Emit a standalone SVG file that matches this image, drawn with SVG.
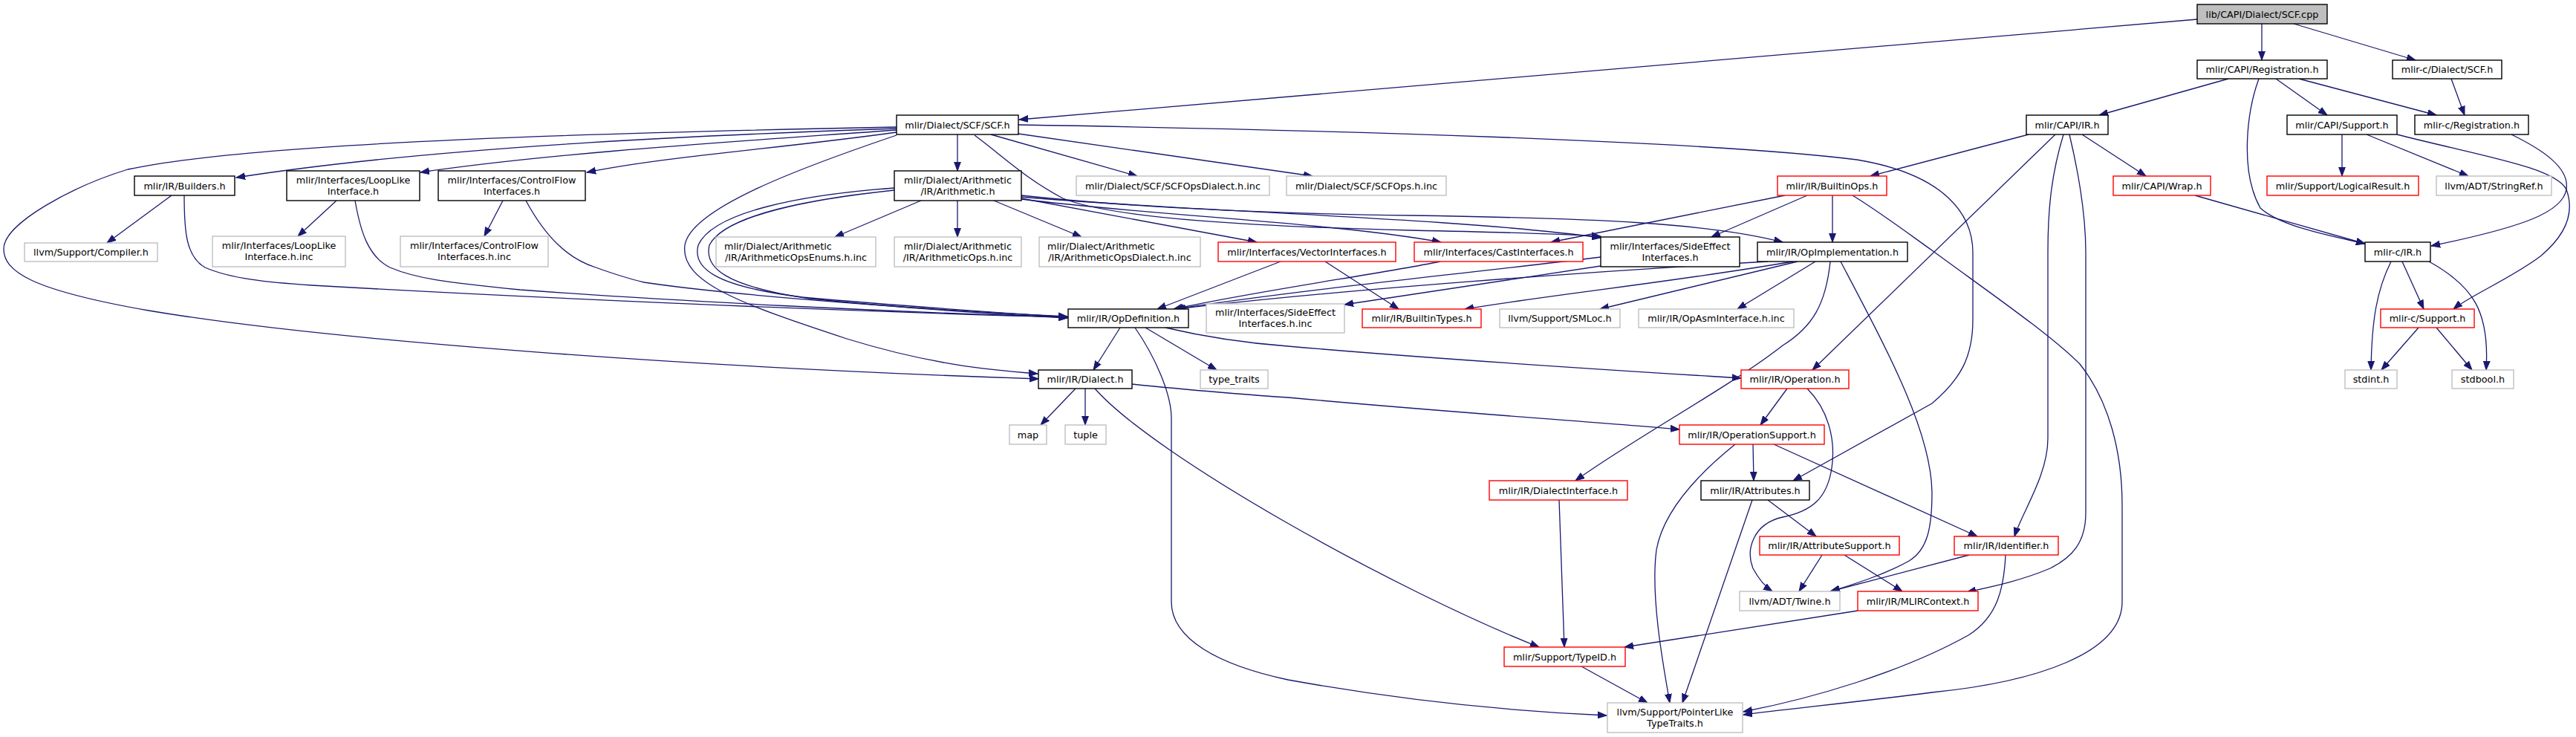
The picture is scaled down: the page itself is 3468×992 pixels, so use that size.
<svg xmlns="http://www.w3.org/2000/svg" width="3468" height="992" viewBox="0 0 3468 992">
<style>
rect{fill:#ffffff;stroke-width:1.4}
.k rect{stroke:#000000}
.g rect{stroke:#bfbfbf}
.r rect{stroke:#ff0000}
.root rect{fill:#bfbfbf;stroke:#000000}
text{font-family:"DejaVu Sans","Liberation Sans",sans-serif;font-size:12.8px;text-anchor:middle;fill:#000000}
text.s{text-anchor:start}
#edges path{fill:none;stroke:#191970;stroke-width:1.3;marker-end:url(#ah)}
</style>
<defs>
<marker id="ah" markerUnits="userSpaceOnUse" markerWidth="13" markerHeight="10" refX="12" refY="5" orient="auto" viewBox="0 0 13 10"><path d="M0,0.6 L12,5 L0,9.4 z" fill="#191970" stroke="#191970" stroke-width="1"/></marker>
</defs>
<rect x="0" y="0" width="3468" height="992" style="fill:#ffffff;stroke:none"/>
<g id="edges">
<path d="M2958,26 L1372,161"/>
<path d="M3045,32 L3045,81"/>
<path d="M3088,32 L3252,81"/>
<path d="M3000,106 L2826,155"/>
<path d="M3041,106 C3025,150 3015,230 3043,280 C3070,305 3140,318 3184,328"/>
<path d="M3064,106 L3133,155"/>
<path d="M3095,106 L3280,155"/>
<path d="M3300,106 L3318,155"/>
<path d="M2731,181 L2518,237"/>
<path d="M2767,181 L2440,498"/>
<path d="M2778,181 C2760,240 2757,290 2757,340 L2757,590 C2757,640 2722,690 2712,722"/>
<path d="M2786,181 C2800,240 2808,290 2808,340 L2808,690 C2808,730 2790,750 2760,765 C2720,782 2680,790 2648,797"/>
<path d="M2803,181 L2889,237"/>
<path d="M2955,263 L3184,328"/>
<path d="M3153,181 L3153,237"/>
<path d="M3186,181 L3323,237"/>
<path d="M3227,181 C3340,210 3440,225 3455,255 C3468,290 3450,320 3420,345 C3380,375 3325,398 3303,416"/>
<path d="M3381,181 C3420,200 3460,225 3455,255 C3450,285 3400,305 3273,331"/>
<path d="M3219,352 C3200,390 3193,430 3192,498"/>
<path d="M3234,352 L3263,416"/>
<path d="M3270,352 C3330,385 3352,420 3347,498"/>
<path d="M3256,441 L3206,498"/>
<path d="M3280,441 L3328,498"/>
<path d="M1207,173 C1000,180 600,195 318,239"/>
<path d="M1207,175 C1000,190 750,205 566,232"/>
<path d="M1207,178 C1050,200 900,210 790,232"/>
<path d="M1207,171 C850,178 350,190 172,228 C100,250 5,300 5,335 C5,365 40,390 200,418 C450,460 950,495 1398,510"/>
<path d="M1289,181 L1289,230"/>
<path d="M1334,181 L1531,237"/>
<path d="M1371,180 L1767,237"/>
<path d="M1371,168 C1800,175 2300,190 2500,215 C2620,235 2656,290 2656,340 L2656,430 C2656,480 2640,510 2601,543 L2414,647"/>
<path d="M1207,182 C1080,225 930,280 922,330 C915,380 1000,410 1140,456 C1250,490 1330,498 1397,503"/>
<path d="M1204,253 C1080,262 960,285 940,330 C932,360 960,385 1080,400 C1250,415 1380,423 1437,427"/>
<path d="M1204,256 C1090,268 975,290 955,330 C948,360 975,385 1090,402 C1250,418 1380,425 1437,428"/>
<path d="M1240,270 L1124,319"/>
<path d="M1289,270 L1289,319"/>
<path d="M1338,270 L1456,319"/>
<path d="M1375,267 L1692,326"/>
<path d="M1375,268 C1550,290 1800,300 1940,326"/>
<path d="M1375,265 C1600,285 1950,292 2155,320"/>
<path d="M1312,182 C1350,210 1380,240 1431,267 C1500,295 1700,305 1900,310 C2000,312 2100,315 2155,318"/>
<path d="M1375,263 C1550,282 1750,288 1900,290 C2150,294 2300,300 2400,326"/>
<path d="M2403,263 L2088,326"/>
<path d="M2433,263 L2304,319"/>
<path d="M2467,263 L2467,326"/>
<path d="M2494,263 C2530,285 2570,315 2601,337 C2680,395 2760,450 2800,490 C2840,540 2857,610 2857,680 L2857,810 C2857,880 2740,918 2601,932 C2500,945 2400,955 2347,962"/>
<path d="M1724,352 L1558,416"/>
<path d="M1784,352 L1883,416"/>
<path d="M1939,352 C1850,370 1700,390 1580,416"/>
<path d="M2155,346 C2000,365 1750,390 1582,416"/>
<path d="M2155,358 L1810,410"/>
<path d="M2380,352 C2150,365 1800,390 1584,416"/>
<path d="M2414,352 C2250,380 2100,395 1972,416"/>
<path d="M2420,352 L2154,416"/>
<path d="M2444,352 L2339,416"/>
<path d="M2464,352 C2458,410 2440,440 2400,465 C2330,520 2200,590 2121,647"/>
<path d="M2478,352 C2540,470 2600,580 2601,663 C2601,710 2595,740 2570,755 C2540,772 2500,785 2465,796"/>
<path d="M1508,441 L1472,498"/>
<path d="M1542,441 L1638,498"/>
<path d="M1569,441 C1620,453 1680,462 1734,466 C1950,485 2200,500 2344,509"/>
<path d="M1528,441 C1555,480 1577,530 1577,563 L1577,810 C1577,860 1640,895 1734,915 C1900,945 2050,958 2163,963"/>
<path d="M1448,523 L1401,572"/>
<path d="M1461,523 L1461,572"/>
<path d="M1524,517 C1600,525 1700,533 1734,535 C1950,555 2150,568 2261,578"/>
<path d="M1474,523 C1555,615 1880,795 2072,871"/>
<path d="M2406,523 L2370,572"/>
<path d="M2433,523 C2460,550 2472,590 2466,630 C2460,670 2440,688 2400,696 C2360,705 2350,740 2360,765 C2368,780 2377,790 2386,796"/>
<path d="M2360,598 L2361,647"/>
<path d="M2388,598 L2662,722"/>
<path d="M2336,598 C2290,635 2240,685 2230,740 C2222,800 2238,890 2248,946"/>
<path d="M2359,673 L2265,946"/>
<path d="M2380,673 L2445,722"/>
<path d="M2453,747 L2422,796"/>
<path d="M2483,747 L2561,796"/>
<path d="M2651,747 L2464,796"/>
<path d="M2700,747 C2698,790 2690,830 2650,855 C2560,905 2440,940 2347,958"/>
<path d="M2501,822 L2187,871"/>
<path d="M2129,897 L2218,946"/>
<path d="M2099,673 L2106,871"/>
<path d="M231,263 L144,327"/>
<path d="M248,263 C248,310 250,345 276,360 C310,375 360,380 420,384 C700,400 1100,418 1437,427"/>
<path d="M453,270 L401,318"/>
<path d="M478,270 C485,310 495,345 525,360 C560,375 600,380 700,390 C900,405 1200,420 1437,427"/>
<path d="M677,270 L652,318"/>
<path d="M708,270 C735,320 765,348 802,360 C830,370 850,376 867,380 C1000,400 1300,420 1437,426"/>
</g>
<g id="n_root" class="root"><rect x="2958" y="6" width="175" height="26"/><text x="3045.5" y="23.5">lib/CAPI/Dialect/SCF.cpp</text></g>
<g id="n_reg" class="k"><rect x="2958" y="81" width="175" height="25"/><text x="3045.5" y="98">mlir/CAPI/Registration.h</text></g>
<g id="n_csf" class="k"><rect x="3221" y="81" width="147" height="25"/><text x="3294.5" y="98">mlir-c/Dialect/SCF.h</text></g>
<g id="n_scf" class="k"><rect x="1207" y="155" width="164" height="26"/><text x="1289" y="172.5">mlir/Dialect/SCF/SCF.h</text></g>
<g id="n_capiir" class="k"><rect x="2728" y="155" width="110" height="26"/><text x="2783" y="172.5">mlir/CAPI/IR.h</text></g>
<g id="n_capisup" class="k"><rect x="3079" y="155" width="148" height="26"/><text x="3153" y="172.5">mlir/CAPI/Support.h</text></g>
<g id="n_creg" class="k"><rect x="3251" y="155" width="153" height="26"/><text x="3327.5" y="172.5">mlir-c/Registration.h</text></g>
<g id="n_build" class="k"><rect x="181" y="237" width="135" height="26"/><text x="248.5" y="254.5">mlir/IR/Builders.h</text></g>
<g id="n_loop" class="k"><rect x="386" y="230" width="179" height="40"/><text x="475.5" y="246.8">mlir/Interfaces/LoopLike</text><text x="475.5" y="261.8">Interface.h</text></g>
<g id="n_cf" class="k"><rect x="590" y="230" width="198" height="40"/><text x="689" y="246.8">mlir/Interfaces/ControlFlow</text><text x="689" y="261.8">Interfaces.h</text></g>
<g id="n_arith" class="k"><rect x="1204" y="230" width="171" height="40"/><text x="1289.5" y="246.8">mlir/Dialect/Arithmetic</text><text x="1289.5" y="261.8">/IR/Arithmetic.h</text></g>
<g id="n_scfdia" class="g"><rect x="1449" y="237" width="260" height="26"/><text x="1579" y="254.5">mlir/Dialect/SCF/SCFOpsDialect.h.inc</text></g>
<g id="n_scfops" class="g"><rect x="1732" y="237" width="215" height="26"/><text x="1839.5" y="254.5">mlir/Dialect/SCF/SCFOps.h.inc</text></g>
<g id="n_bops" class="r"><rect x="2393" y="237" width="147" height="26"/><text x="2466.5" y="254.5">mlir/IR/BuiltinOps.h</text></g>
<g id="n_wrap" class="r"><rect x="2845" y="237" width="131" height="26"/><text x="2910.5" y="254.5">mlir/CAPI/Wrap.h</text></g>
<g id="n_lres" class="r"><rect x="3052" y="237" width="204" height="26"/><text x="3154" y="254.5">mlir/Support/LogicalResult.h</text></g>
<g id="n_sref" class="g"><rect x="3280" y="237" width="155" height="26"/><text x="3357.5" y="254.5">llvm/ADT/StringRef.h</text></g>
<g id="n_comp" class="g"><rect x="33" y="327" width="179" height="25"/><text x="122.5" y="344">llvm/Support/Compiler.h</text></g>
<g id="n_loopinc" class="g"><rect x="286" y="318" width="179" height="41"/><text x="375.5" y="335.3">mlir/Interfaces/LoopLike</text><text x="375.5" y="350.3">Interface.h.inc</text></g>
<g id="n_cfinc" class="g"><rect x="539" y="318" width="199" height="41"/><text x="638.5" y="335.3">mlir/Interfaces/ControlFlow</text><text x="638.5" y="350.3">Interfaces.h.inc</text></g>
<g id="n_aenum" class="g"><rect x="964" y="319" width="215" height="40"/><text class="s" x="975" y="335.8">mlir/Dialect/Arithmetic</text><text x="1071.5" y="350.8">/IR/ArithmeticOpsEnums.h.inc</text></g>
<g id="n_aops" class="g"><rect x="1204" y="319" width="171" height="40"/><text x="1289.5" y="335.8">mlir/Dialect/Arithmetic</text><text x="1289.5" y="350.8">/IR/ArithmeticOps.h.inc</text></g>
<g id="n_adia" class="g"><rect x="1399" y="319" width="217" height="40"/><text class="s" x="1410" y="335.8">mlir/Dialect/Arithmetic</text><text x="1507.5" y="350.8">/IR/ArithmeticOpsDialect.h.inc</text></g>
<g id="n_vec" class="r"><rect x="1640" y="326" width="239" height="26"/><text x="1759.5" y="343.5">mlir/Interfaces/VectorInterfaces.h</text></g>
<g id="n_cast" class="r"><rect x="1904" y="326" width="227" height="26"/><text x="2017.5" y="343.5">mlir/Interfaces/CastInterfaces.h</text></g>
<g id="n_se" class="k"><rect x="2155" y="319" width="187" height="40"/><text x="2248.5" y="335.8">mlir/Interfaces/SideEffect</text><text x="2248.5" y="350.8">Interfaces.h</text></g>
<g id="n_opimpl" class="k"><rect x="2366" y="326" width="202" height="26"/><text x="2467" y="343.5">mlir/IR/OpImplementation.h</text></g>
<g id="n_cir" class="k"><rect x="3184" y="326" width="88" height="26"/><text x="3228" y="343.5">mlir-c/IR.h</text></g>
<g id="n_opdef" class="k"><rect x="1438" y="416" width="162" height="25"/><text x="1519" y="433">mlir/IR/OpDefinition.h</text></g>
<g id="n_seinc" class="g"><rect x="1624" y="409" width="186" height="39"/><text x="1717" y="425.3">mlir/Interfaces/SideEffect</text><text x="1717" y="440.3">Interfaces.h.inc</text></g>
<g id="n_btypes" class="r"><rect x="1834" y="416" width="160" height="25"/><text x="1914" y="433">mlir/IR/BuiltinTypes.h</text></g>
<g id="n_smloc" class="g"><rect x="2019" y="416" width="162" height="25"/><text x="2100" y="433">llvm/Support/SMLoc.h</text></g>
<g id="n_opasm" class="g"><rect x="2206" y="416" width="209" height="25"/><text x="2310.5" y="433">mlir/IR/OpAsmInterface.h.inc</text></g>
<g id="n_csup" class="r"><rect x="3205" y="416" width="126" height="25"/><text x="3268" y="433">mlir-c/Support.h</text></g>
<g id="n_dialect" class="k"><rect x="1398" y="498" width="126" height="25"/><text x="1461" y="515">mlir/IR/Dialect.h</text></g>
<g id="n_tt" class="g"><rect x="1616" y="498" width="91" height="25"/><text x="1661.5" y="515">type_traits</text></g>
<g id="n_op" class="r"><rect x="2344" y="498" width="145" height="25"/><text x="2416.5" y="515">mlir/IR/Operation.h</text></g>
<g id="n_stdint" class="g"><rect x="3157" y="498" width="70" height="25"/><text x="3192" y="515">stdint.h</text></g>
<g id="n_stdbool" class="g"><rect x="3301" y="498" width="83" height="25"/><text x="3342.5" y="515">stdbool.h</text></g>
<g id="n_map" class="g"><rect x="1359" y="572" width="50" height="26"/><text x="1384" y="589.5">map</text></g>
<g id="n_tuple" class="g"><rect x="1434" y="572" width="55" height="26"/><text x="1461.5" y="589.5">tuple</text></g>
<g id="n_opsup" class="r"><rect x="2261" y="572" width="195" height="26"/><text x="2358.5" y="589.5">mlir/IR/OperationSupport.h</text></g>
<g id="n_dint" class="r"><rect x="2005" y="647" width="186" height="26"/><text x="2098" y="664.5">mlir/IR/DialectInterface.h</text></g>
<g id="n_attr" class="k"><rect x="2290" y="647" width="146" height="26"/><text x="2363" y="664.5">mlir/IR/Attributes.h</text></g>
<g id="n_asup" class="r"><rect x="2369" y="722" width="188" height="25"/><text x="2463" y="739">mlir/IR/AttributeSupport.h</text></g>
<g id="n_ident" class="r"><rect x="2631" y="722" width="140" height="25"/><text x="2701" y="739">mlir/IR/Identifier.h</text></g>
<g id="n_twine" class="g"><rect x="2342" y="796" width="135" height="26"/><text x="2409.5" y="813.5">llvm/ADT/Twine.h</text></g>
<g id="n_mctx" class="r"><rect x="2501" y="796" width="162" height="26"/><text x="2582" y="813.5">mlir/IR/MLIRContext.h</text></g>
<g id="n_typeid" class="r"><rect x="2025" y="871" width="163" height="26"/><text x="2106.5" y="888.5">mlir/Support/TypeID.h</text></g>
<g id="n_ptl" class="g"><rect x="2164" y="946" width="182" height="40"/><text x="2255" y="962.8">llvm/Support/PointerLike</text><text x="2255" y="977.8">TypeTraits.h</text></g>
</svg>
